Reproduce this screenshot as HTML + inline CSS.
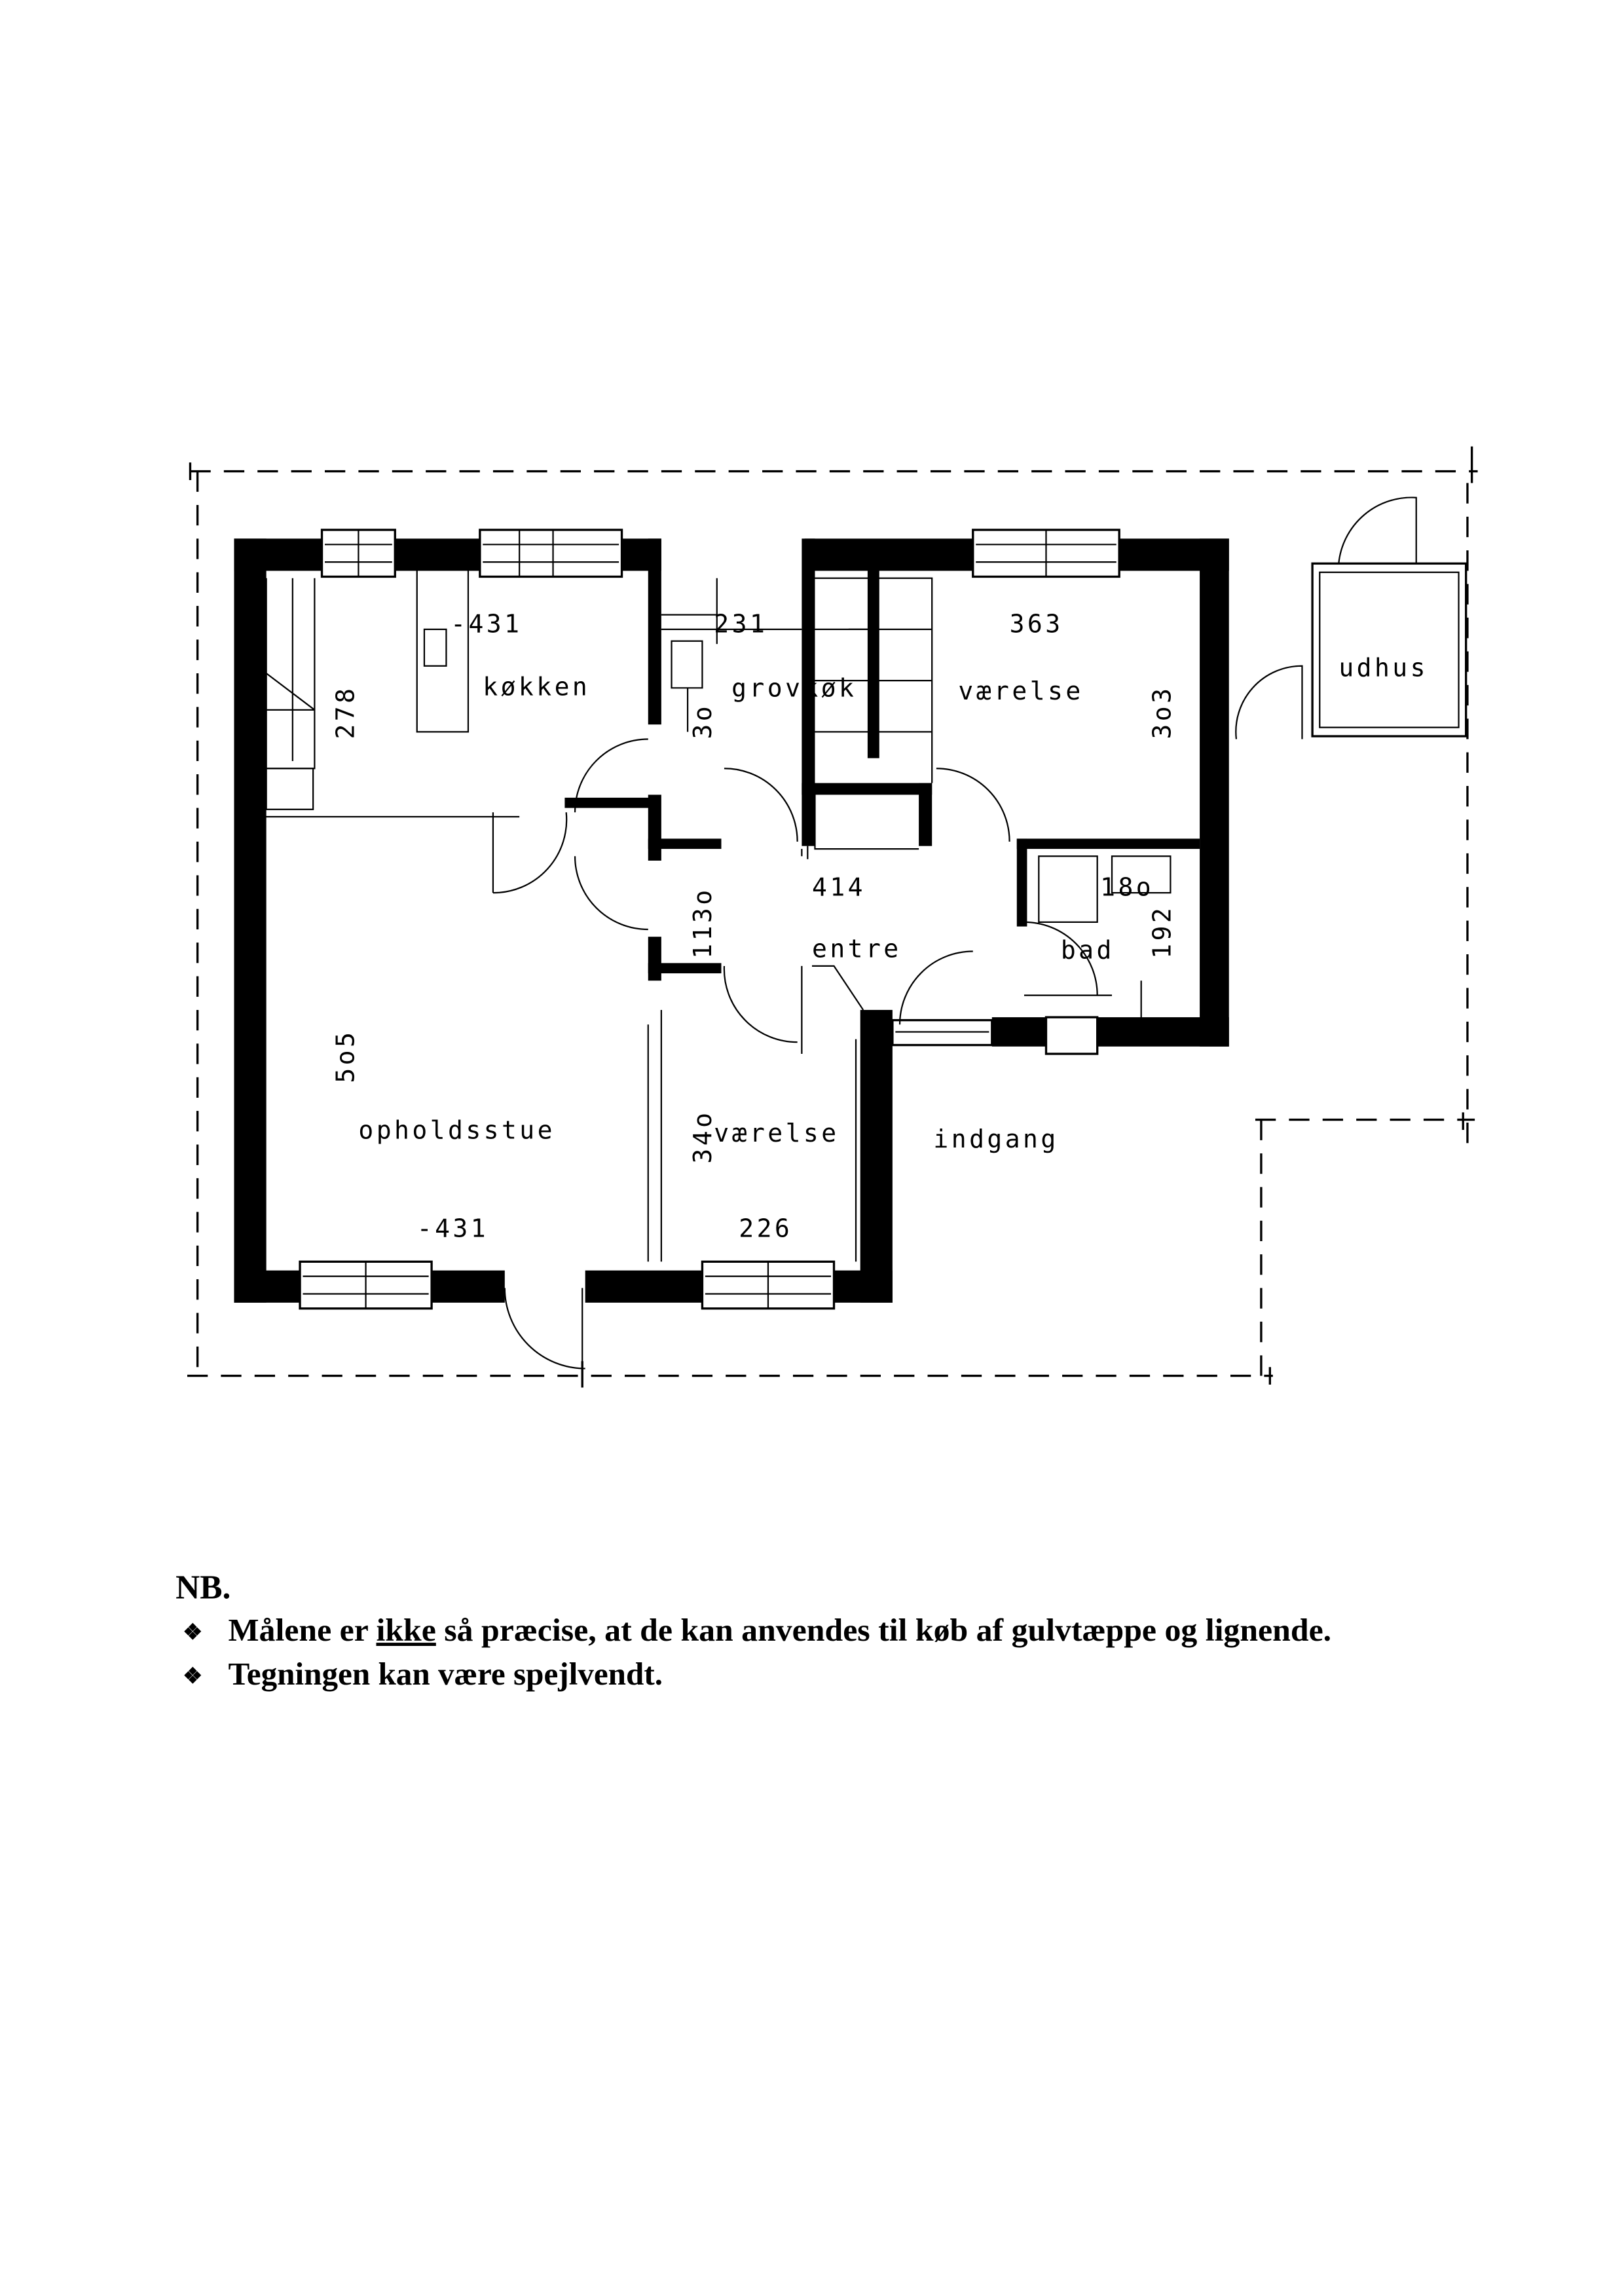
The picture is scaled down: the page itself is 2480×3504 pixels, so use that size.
<!DOCTYPE html>
<html><head><meta charset="utf-8"><style>
html,body{margin:0;padding:0;background:#fff}
svg{display:block}
.t{font-family:"DejaVu Sans Mono","Liberation Mono",monospace;font-size:17px;letter-spacing:2px;fill:#000}
.nb{font-family:"Liberation Serif",serif;font-weight:bold;fill:#000}
</style></head><body>
<svg width="2480" height="3504" viewBox="0 0 1110 1568" preserveAspectRatio="none" xmlns="http://www.w3.org/2000/svg">
<rect width="1110" height="1568" fill="#fff"/>
<g stroke="#000" stroke-width="1.5" stroke-dasharray="14,9" fill="none">
<path d="M130 322 H1010"/><path d="M135 322 V940"/><path d="M128 940 H870"/>
<path d="M862 765 V940"/><path d="M858 765 H1008"/><path d="M1003 330 V790"/>
</g>
<g stroke="#000" stroke-width="1.5"><path d="M130 316V328M1006 305V330M868 934V946M1000 760V772M398 930V948"/></g>
<g fill="#000">
<rect x="160" y="368" width="60" height="22"/><rect x="270" y="368" width="58" height="22"/><rect x="425" y="368" width="27" height="22"/>
<rect x="550" y="368" width="115" height="22"/><rect x="765" y="368" width="75" height="22"/>
<rect x="160" y="368" width="22" height="522"/>
<rect x="160" y="868" width="45" height="22"/><rect x="295" y="868" width="50" height="22"/><rect x="400" y="868" width="80" height="22"/><rect x="570" y="868" width="40" height="22"/>
<rect x="588" y="690" width="22" height="200"/>
<rect x="820" y="368" width="20" height="347"/>
<rect x="750" y="695" width="90" height="20"/><rect x="678" y="695" width="37" height="20"/>
<rect x="443" y="368" width="9" height="127"/>
<rect x="593" y="388" width="8" height="130"/>
<rect x="548" y="368" width="9" height="210"/>
<rect x="628" y="535" width="9" height="43"/><rect x="548" y="535" width="89" height="8"/>
<rect x="443" y="543" width="9" height="45"/><rect x="443" y="573" width="50" height="7"/>
<rect x="386" y="545" width="65" height="7"/>
<rect x="443" y="640" width="9" height="30"/><rect x="443" y="658" width="50" height="7"/>
<rect x="695" y="573" width="125" height="7"/><rect x="695" y="573" width="7" height="60"/>
</g>
<g fill="#fff" stroke="#000" stroke-width="1.5">
<rect x="220" y="362" width="50" height="32"/><rect x="328" y="362" width="97" height="32"/>
<rect x="665" y="362" width="100" height="32"/>
<rect x="205" y="862" width="90" height="32"/><rect x="480" y="862" width="90" height="32"/>
<rect x="610" y="697" width="68" height="17"/><rect x="715" y="695" width="35" height="25"/>
<rect x="897" y="385" width="105" height="118"/>
</g>
<g stroke="#000" stroke-width="1" fill="none">
<path d="M222 372H268M222 384H268M330 372H423M330 384H423M667 372H763M667 384H763M207 872H293M207 884H293M482 872H568M482 884H568M612 705H676"/>
<path d="M245 362V394M355 362V394M378 362V394M715 362V394M250 862V894M525 862V894"/>
<rect x="902" y="391" width="95" height="106"/>
<path d="M180 558H355M443 700V862M452 690V862M585 710V862"/>
<path d="M182 395V525H215V395M200 395V520M182 485H215M182 460L215 485"/>
<rect x="182" y="525" width="32" height="28"/>
<path d="M285 390V500H320V390M290 430H305V455H290Z"/>
<path d="M459 438H480V470H459ZM470 500V470"/>
<path d="M557 395H637V535M557 430H637M557 465H637M557 500H637M557 535V580H628"/>
<path d="M452 420H490M490 395V440M580 430H593M452 430H548"/>
<path d="M555 660H570L590 690M548 660V720"/>
<path d="M710 585H750V630H710ZM760 585H800V610H760Z"/>
<path d="M780 670V700M700 680H760"/>
<path d="M548 580V585M552 578V587"/>
<path d="M337 610A50 50 0 0 0 387 555M337 555V610"/>
<path d="M443 505A50 50 0 0 0 393 555"/>
<path d="M393 585A50 50 0 0 0 443 635"/>
<path d="M545 575A50 50 0 0 0 495 525"/>
<path d="M495 660A50 50 0 0 0 545 712"/>
<path d="M640 525A50 50 0 0 1 690 575"/>
<path d="M700 630A50 50 0 0 1 750 680"/>
<path d="M615 700A50 50 0 0 1 665 650"/>
<path d="M345 880A55 55 0 0 0 400 935M398 880V935"/>
<path d="M915 385A50 50 0 0 1 968 340V385M968 385H1000"/>
<path d="M845 505A45 45 0 0 1 890 455V505"/>
</g>
<g class="t">
<text x="308" y="432">-431</text>
<text x="330" y="475">køkken</text>
<text x="488" y="432">231</text>
<text x="500" y="476">grovkøk</text>
<text x="690" y="432">363</text>
<text x="655" y="478">værelse</text>
<text x="915" y="462">udhus</text>
<text x="555" y="612">414</text>
<text x="555" y="654">entre</text>
<text x="752" y="612">18o</text>
<text x="725" y="655">bad</text>
<text x="245" y="778">opholdsstue</text>
<text x="488" y="780">værelse</text>
<text x="638" y="784">indgang</text>
<text x="285" y="845">-431</text>
<text x="505" y="845">226</text>
<text transform="translate(242 505) rotate(-90)">278</text>
<text transform="translate(486 505) rotate(-90)">3o</text>
<text transform="translate(800 505) rotate(-90)">3o3</text>
<text transform="translate(486 655) rotate(-90)">113o</text>
<text transform="translate(800 655) rotate(-90)">192</text>
<text transform="translate(242 740) rotate(-90)">5o5</text>
<text transform="translate(486 795) rotate(-90)">34o</text>
</g>
<text class="nb" x="120" y="1092" font-size="23">NB.</text>
<text class="nb" x="125" y="1120" font-size="15">❖</text>
<text class="nb" x="156" y="1121" font-size="22" textLength="754" lengthAdjust="spacingAndGlyphs">Målene er <tspan text-decoration="underline">ikke</tspan> så præcise, at de kan anvendes til køb af gulvtæppe og lignende.</text>
<text class="nb" x="125" y="1150" font-size="15">❖</text>
<text class="nb" x="156" y="1151" font-size="22">Tegningen kan være spejlvendt.</text>
</svg>
</body></html>
